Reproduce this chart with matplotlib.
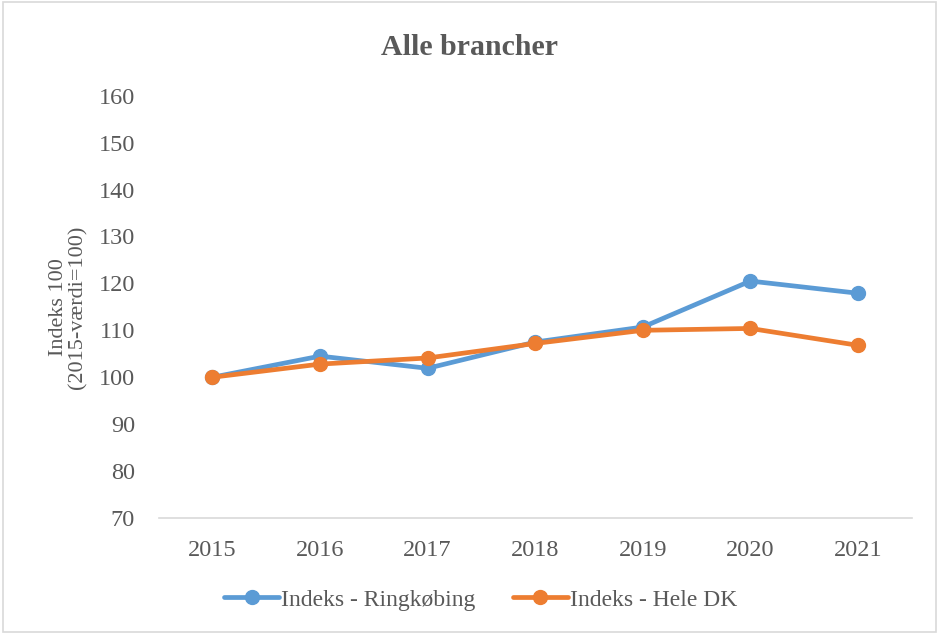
import matplotlib
matplotlib.use("Agg")
import matplotlib.pyplot as plt
from matplotlib.patches import Rectangle

years = ["2015", "2016", "2017", "2018", "2019", "2020", "2021"]
ringkobing = [100.0, 104.5, 101.9, 107.5, 110.7, 120.5, 117.9]
hele_dk = [100.0, 102.8, 104.1, 107.2, 110.0, 110.4, 106.8]
yticks = [70, 80, 90, 100, 110, 120, 130, 140, 150, 160]

plt.rcParams['font.family'] = ['Liberation Serif', 'DejaVu Serif']
txt = '#595959'

fig = plt.figure(figsize=(9.39, 6.34), dpi=100)
fig.patches.append(Rectangle((0.003, 0.003), 0.994, 0.994, transform=fig.transFigure,
                             fill=False, edgecolor='#D9D9D9', linewidth=1.2))
ax = fig.add_axes([0.169, 0.183, 0.802, 0.666])
x = list(range(len(years)))
ax.plot(x, ringkobing, color='#5B9BD5', lw=3.4, marker='o', ms=10, label='Indeks - Ringkøbing',
        solid_capstyle='round', solid_joinstyle='round')
ax.plot(x, hele_dk, color='#ED7D31', lw=3.4, marker='o', ms=10, label='Indeks - Hele DK',
        solid_capstyle='round', solid_joinstyle='round')
ax.set_xlim(-0.5, len(years) - 0.5)
ax.set_ylim(70, 160)
ax.set_yticks(yticks)
ax.set_xticks(x)
ax.set_xticklabels(years)
for s in ['top', 'right', 'left']:
    ax.spines[s].set_visible(False)
ax.spines['bottom'].set_color('#D9D9D9')
ax.spines['bottom'].set_linewidth(1.2)
ax.tick_params(axis='both', length=0, labelsize=17.5, colors=txt)
ax.tick_params(axis='y', pad=17)
ax.tick_params(axis='x', pad=16)
ax.set_ylabel('Indeks 100\n(2015-værdi=100)', fontsize=16, color=txt, labelpad=8, linespacing=1.0)
fig.text(0.5, 0.925, 'Alle brancher', ha='center', va='center', fontsize=21.5, fontweight='bold', color=txt)
leg = fig.legend(loc='center', bbox_to_anchor=(0.512, 0.054), ncol=2, frameon=False,
                 fontsize=17, handlelength=2.3, columnspacing=1.6, handletextpad=0.1)
for t in leg.get_texts():
    t.set_color(txt)
fig.savefig('out.png', dpi=100)
